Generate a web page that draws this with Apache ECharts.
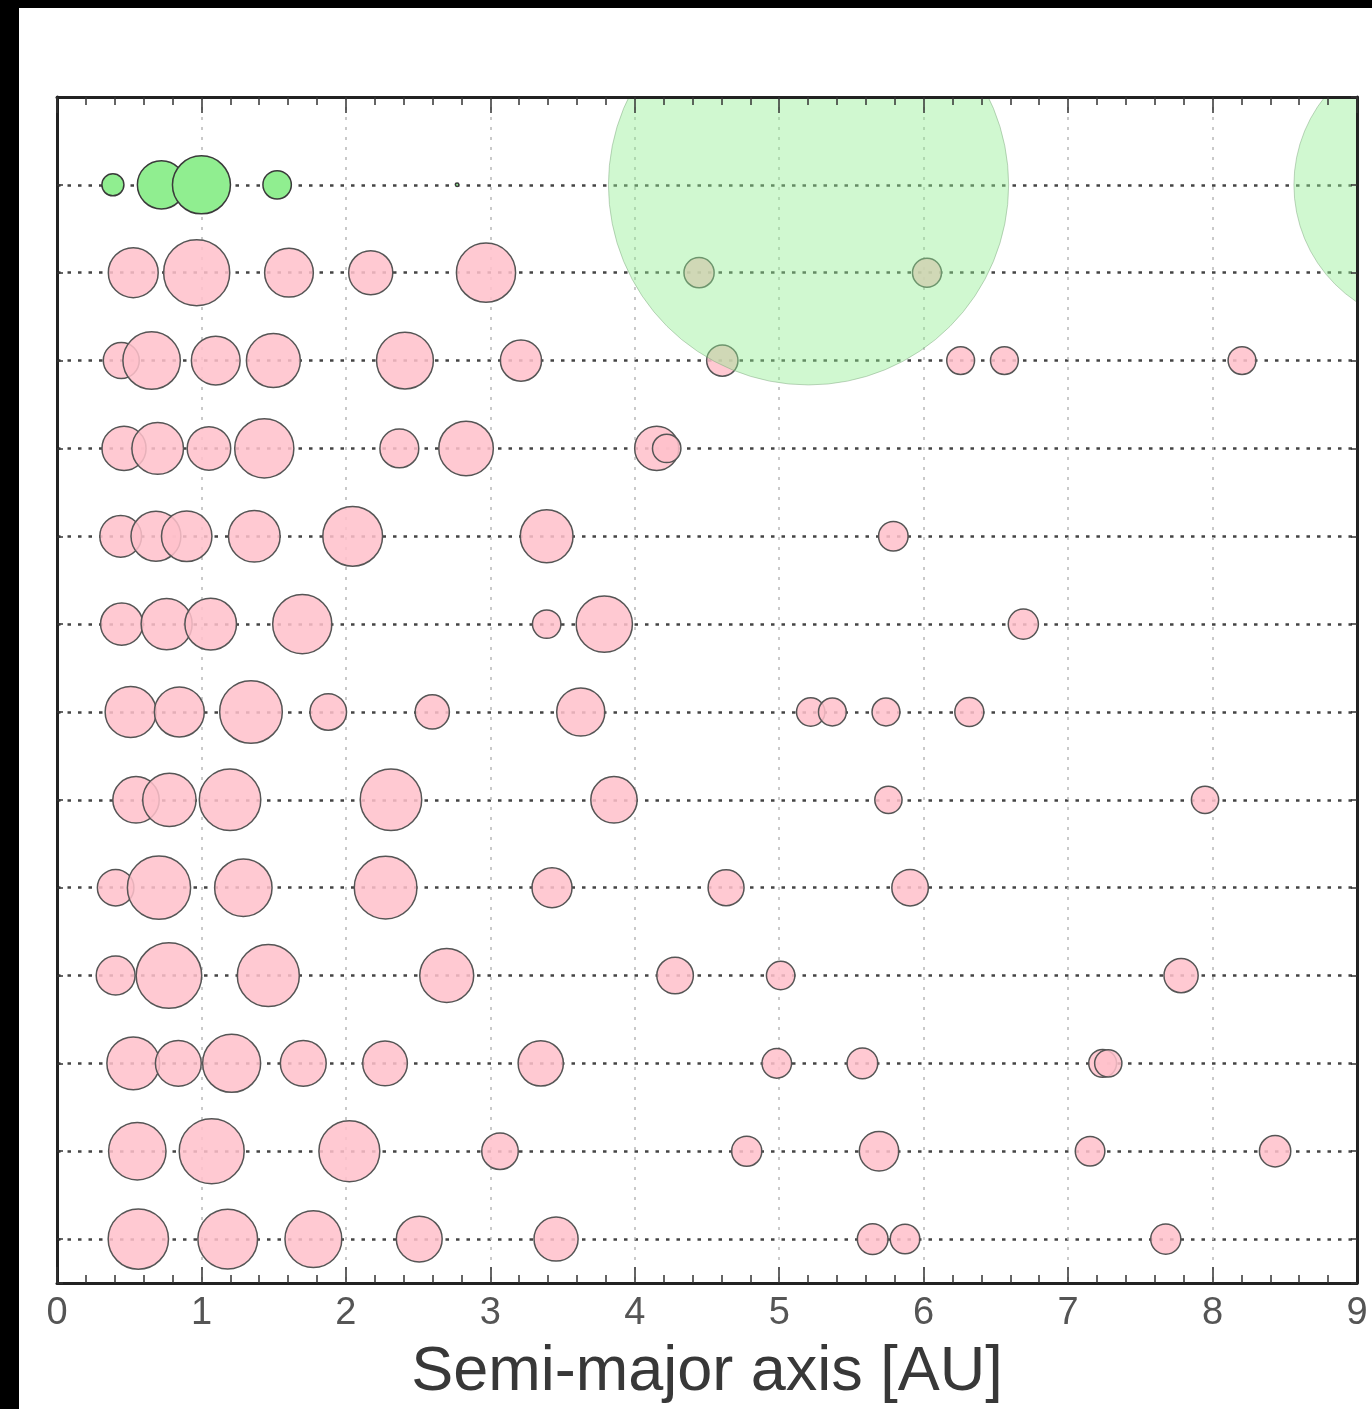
<!DOCTYPE html>
<html><head><meta charset="utf-8">
<script src="https://cdn.jsdelivr.net/npm/echarts@6/dist/echarts.min.js"></script>
<style>html,body{margin:0;padding:0;background:#fff}#c{width:1372px;height:1409px}</style>
</head><body><div id="c"></div>
<script>
// x tick labels (semi-major axis, AU)
const xTicks = ['0','1','2','3','4','5','6','7','8','9'];
// Each entry: [semi-major axis (AU), relative planet size (Earth = 1, ~ mass^(1/3))]
// Row 0: Solar System
const solarInner = [[0.387,0.38],[0.723,0.83],[1.0,1.0],[1.524,0.49],[2.77,0.06]];
const solarGiants = [[5.203,6.90],[9.537,4.85]];
// Rows 1..12: simulated systems
const sys01 = [[0.528,0.86],[0.967,1.14],[1.606,0.84],[2.172,0.76],[2.970,1.02],[4.445,0.52],[6.023,0.50]];
const sys02 = [[0.445,0.62],[0.655,0.99],[1.099,0.84],[1.498,0.93],[2.409,0.98],[3.212,0.71],[4.606,0.54],[6.256,0.48],[6.559,0.48],[8.204,0.48]];
const sys03 = [[0.464,0.76],[0.697,0.89],[1.052,0.75],[1.435,1.02],[2.370,0.67],[2.832,0.94],[4.152,0.76],[4.221,0.49]];
const sys04 = [[0.441,0.72],[0.685,0.86],[0.898,0.87],[1.366,0.89],[2.047,1.03],[3.390,0.91],[5.790,0.51]];
const sys05 = [[0.448,0.73],[0.759,0.88],[1.064,0.89],[1.698,1.02],[3.390,0.49],[3.789,0.97],[6.690,0.52]];
const sys06 = [[0.510,0.88],[0.847,0.86],[1.343,1.08],[1.878,0.63],[2.598,0.59],[3.626,0.83],[5.218,0.49],[5.368,0.48],[5.739,0.48],[6.316,0.50]];
const sys07 = [[0.547,0.80],[0.778,0.92],[1.198,1.06],[2.312,1.06],[3.856,0.80],[5.756,0.47],[7.948,0.47]];
const sys08 = [[0.406,0.63],[0.706,1.09],[1.290,0.99],[2.275,1.08],[3.427,0.69],[4.632,0.62],[5.906,0.63]];
const sys09 = [[0.406,0.67],[0.775,1.13],[1.463,1.07],[2.698,0.93],[4.279,0.63],[5.010,0.49],[7.782,0.59]];
const sys10 = [[0.528,0.91],[0.840,0.79],[1.209,1.00],[1.705,0.79],[2.271,0.77],[3.349,0.78],[4.983,0.51],[5.576,0.53],[7.239,0.48],[7.278,0.47]];
const sys11 = [[0.556,0.99],[1.071,1.12],[2.024,1.05],[3.067,0.63],[4.775,0.52],[5.691,0.68],[7.152,0.51],[8.433,0.54]];
const sys12 = [[0.563,1.04],[1.182,1.03],[1.775,0.98],[2.508,0.79],[3.455,0.76],[5.647,0.53],[5.871,0.51],[7.676,0.52]];

const systems = [sys01,sys02,sys03,sys04,sys05,sys06,sys07,sys08,sys09,sys10,sys11,sys12];
const pinkData = [];
systems.forEach((s, i) => s.forEach(p => pinkData.push([p[0], i + 1, p[1]])));
const greenData = solarInner.map(p => [p[0], 0, p[1]]);
const giantData = solarGiants.map(p => [p[0], 0, p[1]]);

const EARTH_PX = 29; // radius of an Earth-size marker
const FONT = '"Liberation Sans", Arial, sans-serif';

const chart = echarts.init(document.getElementById('c'), null, {renderer: 'canvas'});
const tickStyle = {color: '#333', width: 1.5};
const frame = {show: true, onZero: false, lineStyle: {color: '#222', width: 3}};
chart.setOption({
  backgroundColor: '#ffffff',
  animation: false,
  graphic: [
    {type: 'rect', shape: {x: 0, y: 0, width: 19, height: 1409}, style: {fill: '#000'}, z: 100},
    {type: 'rect', shape: {x: 0, y: 0, width: 1372, height: 8}, style: {fill: '#000'}, z: 100}
  ],
  grid: {left: 57, top: 97, width: 1300, height: 1186, containLabel: false},
  xAxis: [{
    type: 'value', min: 0, max: 9, interval: 1, position: 'bottom',
    axisLine: frame,
    axisTick: {show: true, inside: true, length: 16, lineStyle: tickStyle},
    minorTick: {show: true, splitNumber: 5, length: 8, lineStyle: tickStyle},
    axisLabel: {show: true, margin: 12, color: '#555', fontSize: 38, fontFamily: FONT,
      formatter: v => xTicks[Math.round(v)]},
    splitLine: {show: true, lineStyle: {color: '#b8b8b8', width: 1.5, type: [3, 7]}},
    name: 'Semi-major axis [AU]', nameLocation: 'middle', nameGap: 58,
    nameTextStyle: {fontSize: 63, color: '#383838', fontFamily: FONT}
  }, {
    type: 'value', min: 0, max: 9, interval: 1, position: 'top', z: 10,
    axisLine: frame,
    axisTick: {show: true, inside: true, length: 16, lineStyle: tickStyle},
    minorTick: {show: true, splitNumber: 5, length: 8, lineStyle: tickStyle},
    axisLabel: {show: false}, splitLine: {show: false}
  }],
  yAxis: [{
    type: 'value', min: -1, max: 12.5, interval: 1, inverse: true, position: 'left',
    axisLine: frame,
    axisTick: {show: true, inside: true, length: 6, lineStyle: tickStyle},
    axisLabel: {show: false},
    splitLine: {show: true, lineStyle: {color: '#444', width: 2.6, type: [3.5, 7]}}
  }, {
    type: 'value', min: -1, max: 12.5, interval: 1, inverse: true, position: 'right', z: 10,
    axisLine: frame,
    axisTick: {show: true, inside: true, length: 6, lineStyle: tickStyle},
    axisLabel: {show: false}, splitLine: {show: false}
  }],
  series: [{
    type: 'scatter', xAxisIndex: 0, yAxisIndex: 0, z: 3,
    data: pinkData,
    symbol: 'circle',
    symbolSize: v => v[2] * 2 * EARTH_PX,
    itemStyle: {color: 'rgba(255,192,203,0.86)', borderColor: '#555', borderWidth: 1.5, opacity: 1}
  }, {
    type: 'scatter', xAxisIndex: 0, yAxisIndex: 0, z: 4,
    data: greenData,
    symbol: 'circle',
    symbolSize: v => v[2] * 2 * EARTH_PX,
    itemStyle: {color: '#90ee90', borderColor: '#3a3a3a', borderWidth: 1.5, opacity: 1}
  }, {
    type: 'custom', xAxisIndex: 0, yAxisIndex: 0, z: 5, clip: true,
    data: giantData,
    encode: {x: 0, y: 1},
    renderItem: function (params, api) {
      const c = api.coord([api.value(0), api.value(1)]);
      const r = api.value(2) * EARTH_PX;
      return {type: 'circle', shape: {cx: c[0], cy: c[1], r: r},
        style: {fill: 'rgba(144,238,144,0.42)', stroke: 'rgba(120,160,120,0.45)', lineWidth: 1}};
    }
  }]
});
</script></body></html>
